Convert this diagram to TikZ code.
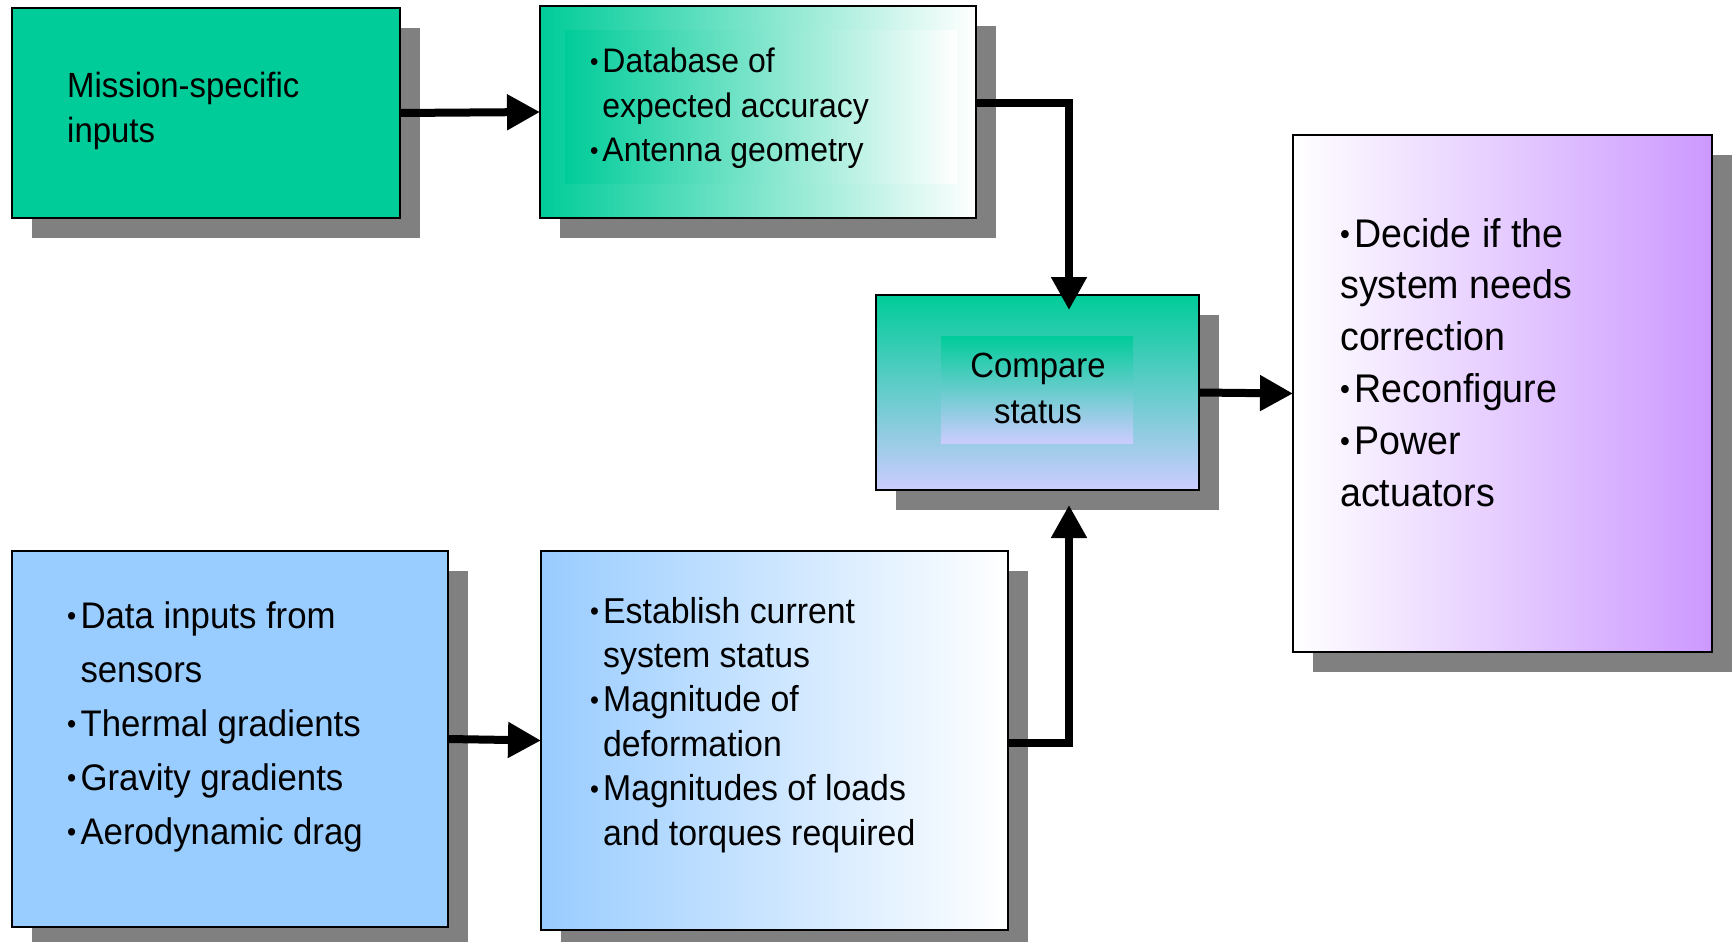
\documentclass[tikz,border=0pt]{standalone}
\usepackage{fontspec}
\setmainfont{Liberation Sans}[FakeStretch=0.94]
\usetikzlibrary{arrows.meta,shadows}
\definecolor{tealg}{RGB}{0,204,153}
\definecolor{lblue}{RGB}{153,204,255}
\definecolor{lpurple}{RGB}{204,153,255}
\definecolor{lavend}{RGB}{204,204,255}
\definecolor{shadowgray}{RGB}{128,128,128}
\newcommand\fsz[2]{\fontsize{#1}{#2}\selectfont}
\newcommand\ltab[1]{\begin{tabular}[t]{@{}l@{}l@{}}#1\end{tabular}}
\newcommand\ctab[1]{\begin{tabular}[t]{@{}c@{}}#1\end{tabular}}
\newcommand\bu{\makebox[0.36em][l]{\raisebox{0.07em}{\scalebox{0.75}{•}}}}
\begin{document}
\begin{tikzpicture}[x=1pt,y=-1pt,
  box/.style={draw=black,line width=2.5pt,inner sep=0pt,outer sep=0pt,
    general shadow={fill=shadowgray,shadow xshift=20pt,shadow yshift=-20pt}},
  conn/.style={line width=8pt,-{Triangle[length=33pt,width=34pt]}},
  lbl/.style={inner sep=0pt,anchor=base west}]
\useasboundingbox (0,0) rectangle (1733,942);

% boxes
\node[box,fill=tealg,minimum width=388pt,minimum height=210pt] (A) at (206,113) {};
\node[box,left color=tealg,right color=white,minimum width=436pt,minimum height=212pt] (B) at (758,112) {};
\shade[left color=tealg,right color=white] (565,31) rectangle (957,183);
\node[box,top color=tealg,bottom color=lavend,minimum width=323pt,minimum height=195pt] (C) at (1037.5,392.5) {};
\shade[top color=tealg,bottom color=lavend] (941,336) rectangle (1133,443);
\node[box,left color=white,right color=lpurple,minimum width=419pt,minimum height=517pt] (D) at (1502.5,393.5) {};
\node[box,fill=lblue,minimum width=436pt,minimum height=376pt] (E) at (230,739) {};
\node[box,left color=lblue,right color=white,minimum width=467pt,minimum height=379pt] (F) at (774.5,740.5) {};

% texts
\node[lbl] (ta) at (67,98) {\fsz{35}{45}\ltab{Mission-specific\\inputs}};
\node[lbl] (tb) at (590,73) {\fsz{34}{44.5}\ltab{\bu&Database of\\&expected accuracy\\\bu&Antenna geometry}};
\node[inner sep=0pt,anchor=base] (tc) at (1038,377) {\fsz{35}{46}\ctab{Compare\\status}};
\node[lbl] (td) at (1340,247) {\fsz{40}{51.8}\ltab{\bu Decide if the\\system needs\\correction\\\bu Reconfigure\\\bu Power\\actuators}};
\node[lbl] (te) at (67,628) {\fsz{37}{54}\ltab{\bu&Data inputs from\\&sensors\\\bu&Thermal gradients\\\bu&Gravity gradients\\\bu&Aerodynamic drag}};
\node[lbl] (tf) at (590,623) {\fsz{36}{44.4}\ltab{\bu&Establish current\\&system status\\\bu&Magnitude of\\&deformation\\\bu&Magnitudes of loads\\&and torques required}};

% connectors
\coordinate (jb) at (1069,103);
\coordinate (jf) at (1069,743);
\coordinate (ctop) at ([yshift=-15pt]C.north);
\coordinate (cbot) at ([yshift=-15pt]C.south);
\draw[conn] (A.east) -- (B.west);
\draw[conn] (B.east |- jb) -| (ctop -| jb);
\draw[conn] (C.east) -- (D.west);
\draw[conn] (E.east) -- (F.west);
\draw[conn] (F.east |- jf) -| (cbot -| jb);
\end{tikzpicture}
\end{document}
